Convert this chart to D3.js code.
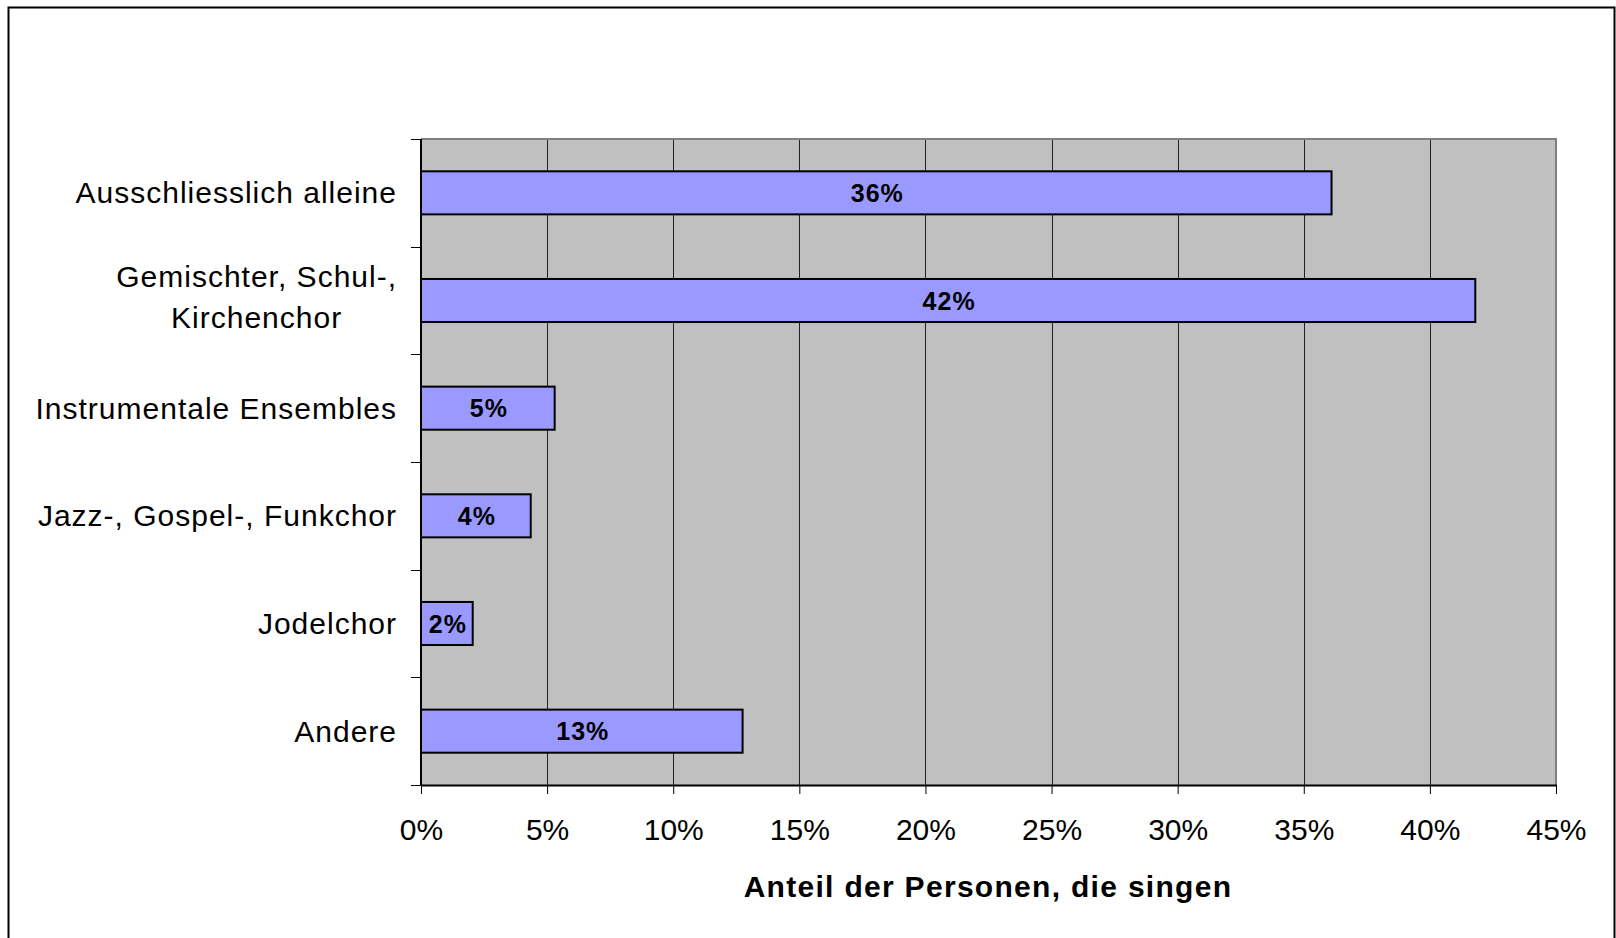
<!DOCTYPE html>
<html>
<head>
<meta charset="utf-8">
<script src="https://cdn.jsdelivr.net/npm/d3@7"></script>
<style>
  html, body { margin: 0; padding: 0; background: #fff; }
  svg { display: block; font-family: "Liberation Sans", Arial, sans-serif; }
</style>
</head>
<body>
<div id="chart"></div>
<script>
// categories (top to bottom) and share of singers
const categories = [
  "Ausschliesslich alleine",
  "Gemischter, Schul-,\nKirchenchor",
  "Instrumentale Ensembles",
  "Jazz-, Gospel-, Funkchor",
  "Jodelchor",
  "Andere"
];
const shares = [0.361, 0.418, 0.053, 0.0435, 0.0205, 0.1275];
const xTicks = [0, 0.05, 0.1, 0.15, 0.2, 0.25, 0.3, 0.35, 0.4, 0.45];
const xTitle = "Anteil der Personen, die singen";

const width = 1616, height = 938;
const plot = { left: 421, right: 1556, top: 139, bottom: 785 };

const svg = d3.select("#chart").append("svg")
  .attr("width", width)
  .attr("height", height);

// outer frame (bottom edge runs off the picture)
svg.append("rect")
  .attr("x", 8.5).attr("y", 7.5)
  .attr("width", 1606).attr("height", 960)
  .attr("fill", "#fff")
  .attr("stroke", "#000")
  .attr("stroke-width", 2);

const x = d3.scaleLinear()
  .domain([0, 0.45])
  .range([plot.left, plot.right]);

const y = d3.scaleBand()
  .domain(categories)
  .range([plot.top, plot.bottom])
  .paddingInner(0.6)
  .paddingOuter(0.3);

// plot background
svg.append("rect")
  .attr("x", plot.left).attr("y", plot.top)
  .attr("width", plot.right - plot.left)
  .attr("height", plot.bottom - plot.top)
  .attr("fill", "#c0c0c0");

// vertical gridlines
svg.append("g")
  .selectAll("line")
  .data(xTicks.slice(1, -1))
  .join("line")
  .attr("x1", d => Math.round(x(d)) + 0.5)
  .attr("x2", d => Math.round(x(d)) + 0.5)
  .attr("y1", plot.top)
  .attr("y2", plot.bottom)
  .attr("stroke", "#222")
  .attr("stroke-width", 1);

// top and right border of the plot area
svg.append("path")
  .attr("d", `M${plot.left},${plot.top}H${plot.right}V${plot.bottom}`)
  .attr("fill", "none")
  .attr("stroke", "#808080")
  .attr("stroke-width", 2);

// bars
svg.append("g")
  .selectAll("rect")
  .data(shares)
  .join("rect")
  .attr("x", x(0))
  .attr("y", (d, i) => y(categories[i]))
  .attr("width", d => x(d) - x(0))
  .attr("height", y.bandwidth())
  .attr("fill", "#9999ff")
  .attr("stroke", "#000")
  .attr("stroke-width", 2);

// value labels
svg.append("g")
  .selectAll("text")
  .data(shares)
  .join("text")
  .attr("x", d => (x(0) + x(d)) / 2 + 1)
  .attr("y", (d, i) => y(categories[i]) + y.bandwidth() / 2)
  .attr("dy", "0.36em")
  .attr("text-anchor", "middle")
  .style("font-size", "25px")
  .style("font-weight", "bold")
  .style("letter-spacing", "1px")
  .text(d => Math.round(d * 100) + "%");

// x axis
const xAxis = svg.append("g")
  .attr("transform", `translate(0,${plot.bottom})`)
  .call(d3.axisBottom(x)
    .tickValues(xTicks)
    .tickFormat(d3.format(".0%"))
    .tickSizeInner(9)
    .tickSizeOuter(0)
    .tickPadding(25));
xAxis.select(".domain").attr("stroke", "#000").attr("stroke-width", 2);
xAxis.selectAll(".tick line").attr("stroke", "#000");
xAxis.selectAll(".tick text")
  .attr("fill", "#000")
  .style("font-size", "30px")
  .style("font-family", "'Liberation Sans', Arial, sans-serif");

// y axis line and ticks at category boundaries
svg.append("line")
  .attr("x1", plot.left).attr("x2", plot.left)
  .attr("y1", plot.top).attr("y2", plot.bottom)
  .attr("stroke", "#000")
  .attr("stroke-width", 2);
svg.append("g")
  .selectAll("line")
  .data(d3.range(categories.length + 1))
  .join("line")
  .attr("x1", plot.left - 10).attr("x2", plot.left)
  .attr("y1", i => Math.round(plot.top + i * y.step()) + 0.5)
  .attr("y2", i => Math.round(plot.top + i * y.step()) + 0.5)
  .attr("stroke", "#000");

// category labels: block right aligned, lines centred inside the block
const labelRight = 397;
const lineGap = 41;
const catG = svg.append("g")
  .style("font-size", "30px")
  .style("letter-spacing", "1px")
  .attr("fill", "#000");
categories.forEach(c => {
  const lines = c.split("\n");
  const t = catG.append("text")
    .attr("text-anchor", "middle");
  const cy = y(c) + y.bandwidth() / 2 - (lines.length > 1 ? 4 : 0);
  lines.forEach((ln, k) => {
    t.append("tspan")
      .attr("y", cy + (k - (lines.length - 1) / 2) * lineGap)
      .attr("dy", "0.35em")
      .text(ln);
  });
  const w = d3.max(t.selectAll("tspan").nodes(), n => n.getComputedTextLength());
  t.selectAll("tspan").attr("x", labelRight - w / 2);
});

// axis title
svg.append("text")
  .attr("x", 988)
  .attr("y", 897)
  .attr("text-anchor", "middle")
  .style("font-size", "30px")
  .style("font-weight", "bold")
  .style("letter-spacing", "1.3px")
  .text(xTitle);
</script>
</body>
</html>
